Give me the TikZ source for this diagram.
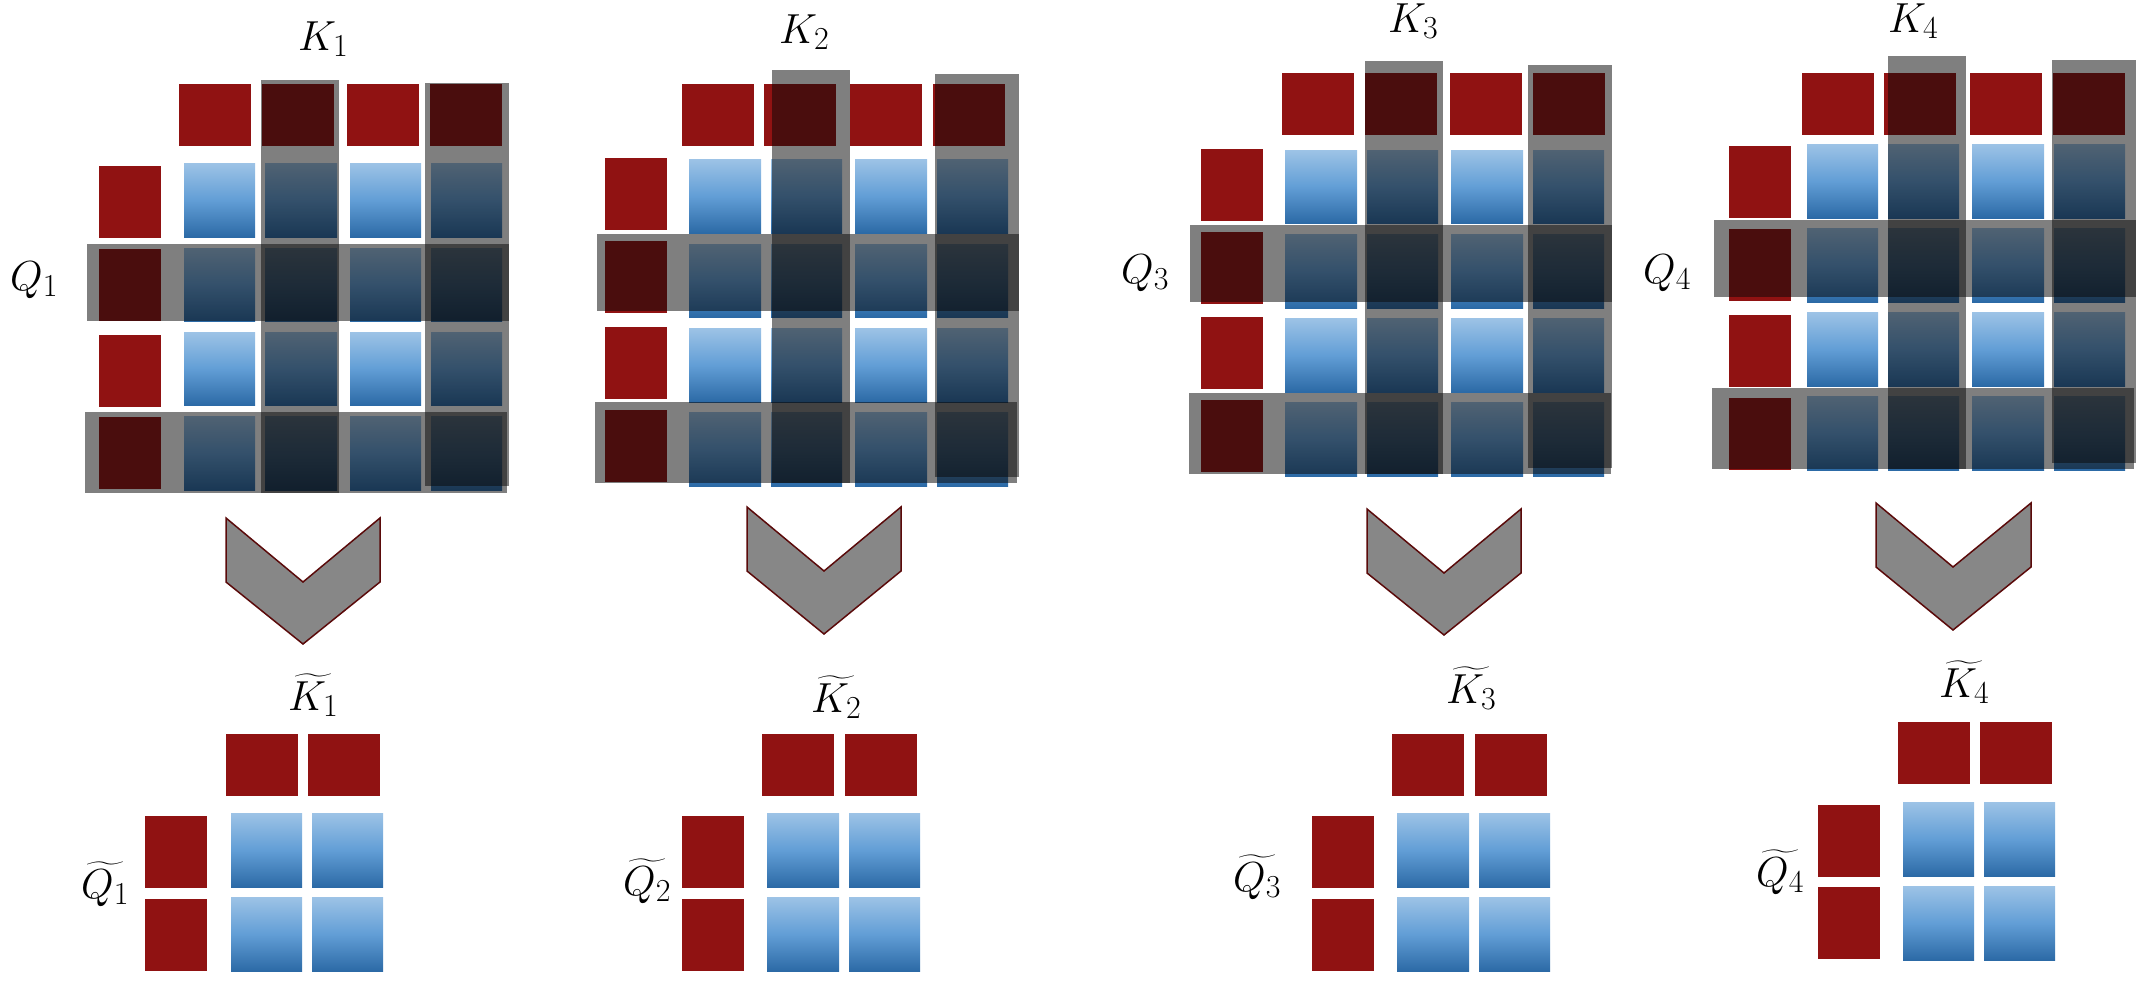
\RequirePackage{fix-cm}
\documentclass[tikz,border=0pt]{standalone}
\usepackage{exscale}
\DeclareMathSizes{42}{42}{32}{24}
\definecolor{redc}{RGB}{144,18,18}
\definecolor{bluetop}{RGB}{157,195,230}
\definecolor{bluemid}{RGB}{98,158,214}
\definecolor{bluebot}{RGB}{44,106,166}
\definecolor{chevfill}{RGB}{135,135,135}
\definecolor{chevline}{RGB}{90,10,10}
\definecolor{maskc}{RGB}{10,10,10}
\tikzset{
  redcell/.style={fill=redc},
  bluecell/.style={top color=bluetop,bottom color=bluebot,middle color=bluemid},
  mask/.style={fill=maskc,opacity=0.52},
  chev/.style={fill=chevfill,draw=chevline,line width=1.5pt,line join=miter},
  lbl/.style={inner sep=0pt,anchor=base west,font=\fontsize{42}{48}\selectfont},
}
\begin{document}
\begin{tikzpicture}[x=1pt,y=-1pt]
\useasboundingbox (0,0) rectangle (2139,980);

% ---------- block 1 ----------
\foreach \a/\b in {179/251,262/334,347/419,430/502} \fill[redcell] (\a,84) rectangle (\b,146);
\foreach \a/\b in {166/238,249/321,335/407,417/489} \fill[redcell] (99,\a) rectangle (161,\b);
\foreach \a/\b in {184/255,265/337,350/421,431/502}
  \foreach \c/\d in {163/237,248/321,332/405,416/490} \shade[bluecell] (\a,\c) rectangle (\b,\d);
\fill[mask] (261,80) rectangle (339,493);
\fill[mask] (425,83) rectangle (509,486);
\fill[mask] (87,244) rectangle (509,321);
\fill[mask] (85,412) rectangle (507,493);
\node[lbl] (k1) at (298,50) {$K_1$};
\node[lbl] (q1) at (10,290) {$Q_1$};
\draw[chev] (226,518) -- (303,582) -- (380,518) -- (380,582) -- (303,644) -- (226,582) -- cycle;
\foreach \a/\b in {226/298,308/380} \fill[redcell] (\a,734) rectangle (\b,796);
\foreach \a/\b in {816/888,899/971} \fill[redcell] (145,\a) rectangle (207,\b);
\foreach \a/\b in {231/302,312/383}
  \foreach \c/\d in {813/887,897/971} \shade[bluecell] (\a,\c) rectangle (\b,\d);
\node[lbl] (kt1) at (288,710) {$\widetilde{K_1}$};
\node[lbl] (qt1) at (81,898) {$\widetilde{Q_1}$};

% ---------- block 2 ----------
\foreach \a/\b in {682/754,764/836,850/922,933/1005} \fill[redcell] (\a,84) rectangle (\b,146);
\foreach \a/\b in {158/230,241/313,327/399,410/482} \fill[redcell] (605,\a) rectangle (667,\b);
\foreach \a/\b in {689/761,771/842,855/927,937/1008}
  \foreach \c/\d in {159/233,244/317,328/402,412/486} \shade[bluecell] (\a,\c) rectangle (\b,\d);
\fill[mask] (772,70) rectangle (850,483);
\fill[mask] (935,74) rectangle (1019,477);
\fill[mask] (597,234) rectangle (1019,311);
\fill[mask] (595,402) rectangle (1017,483);
\node[lbl] (k2) at (779,43) {$K_2$};
\draw[chev] (747,507) -- (824,571) -- (901,507) -- (901,571) -- (824,634) -- (747,571) -- cycle;
\foreach \a/\b in {762/834,845/917} \fill[redcell] (\a,734) rectangle (\b,796);
\foreach \a/\b in {816/888,899/971} \fill[redcell] (682,\a) rectangle (744,\b);
\foreach \a/\b in {767/839,849/920}
  \foreach \c/\d in {813/887,897/971} \shade[bluecell] (\a,\c) rectangle (\b,\d);
\node[lbl] (kt2) at (811,712) {$\widetilde{K_2}$};
\node[lbl] (qt2) at (623,895) {$\widetilde{Q_2}$};

% ---------- block 3 ----------
\foreach \a/\b in {1282/1354,1365/1437,1450/1522,1533/1605} \fill[redcell] (\a,73) rectangle (\b,135);
\foreach \a/\b in {149/221,232/304,317/389,400/472} \fill[redcell] (1201,\a) rectangle (1263,\b);
\foreach \a/\b in {1285/1357,1367/1438,1451/1523,1533/1604}
  \foreach \c/\d in {150/223,234/308,318/392,402/476} \shade[bluecell] (\a,\c) rectangle (\b,\d);
\fill[mask] (1365,61) rectangle (1443,474);
\fill[mask] (1528,65) rectangle (1612,468);
\fill[mask] (1190,225) rectangle (1612,302);
\fill[mask] (1189,393) rectangle (1611,474);
\node[lbl] (k3) at (1388,32) {$K_3$};
\node[lbl] (q3) at (1121,283) {$Q_3$};
\draw[chev] (1367,509) -- (1444,573) -- (1521,509) -- (1521,573) -- (1444,635) -- (1367,573) -- cycle;
\foreach \a/\b in {1392/1464,1475/1547} \fill[redcell] (\a,734) rectangle (\b,796);
\foreach \a/\b in {816/888,899/971} \fill[redcell] (1312,\a) rectangle (1374,\b);
\foreach \a/\b in {1397/1469,1479/1550}
  \foreach \c/\d in {813/887,897/971} \shade[bluecell] (\a,\c) rectangle (\b,\d);
\node[lbl] (kt3) at (1446,703) {$\widetilde{K_3}$};
\node[lbl] (qt3) at (1233,891) {$\widetilde{Q_3}$};

% ---------- block 4 ----------
\foreach \a/\b in {1802/1874,1884/1956,1970/2042,2053/2125} \fill[redcell] (\a,73) rectangle (\b,135);
\foreach \a/\b in {146/218,229/301,315/387,398/470} \fill[redcell] (1729,\a) rectangle (1791,\b);
\foreach \a/\b in {1807/1878,1888/1959,1972/2044,2054/2125}
  \foreach \c/\d in {144/218,228/302,312/386,396/470} \shade[bluecell] (\a,\c) rectangle (\b,\d);
\fill[mask] (1888,56) rectangle (1966,469);
\fill[mask] (2052,60) rectangle (2136,463);
\fill[mask] (1714,220) rectangle (2136,297);
\fill[mask] (1712,388) rectangle (2134,469);
\node[lbl] (k4) at (1888,32) {$K_4$};
\node[lbl] (q4) at (1643,283) {$Q_4$};
\draw[chev] (1876,503) -- (1953,567) -- (2031,503) -- (2031,567) -- (1953,630) -- (1876,567) -- cycle;
\foreach \a/\b in {1898/1970,1980/2052} \fill[redcell] (\a,722) rectangle (\b,784);
\foreach \a/\b in {805/877,887/959} \fill[redcell] (1818,\a) rectangle (1880,\b);
\foreach \a/\b in {1903/1974,1984/2055}
  \foreach \c/\d in {802/876,886/960} \shade[bluecell] (\a,\c) rectangle (\b,\d);
\node[lbl] (kt4) at (1939,697) {$\widetilde{K_4}$};
\node[lbl] (qt4) at (1756,886) {$\widetilde{Q_4}$};
\end{tikzpicture}
\end{document}
